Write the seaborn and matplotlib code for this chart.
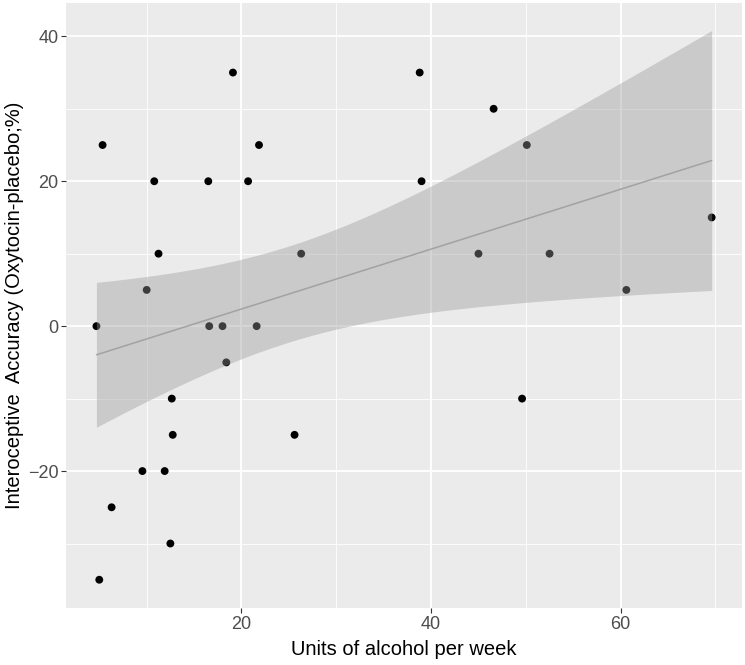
import numpy as np
import pandas as pd
import matplotlib
matplotlib.use("Agg")
import matplotlib.pyplot as plt
import seaborn as sns

# values
units = [4.7, 5.35, 10.8, 11.25, 10.0, 19.1, 16.5, 20.7, 21.85, 16.6, 18.0, 21.6, 26.3,
         18.4, 12.65, 12.75, 25.6, 9.55, 11.9, 6.3, 12.5, 5.0,
         38.8, 46.6, 50.1, 39.0, 45.0, 52.5, 60.6, 69.6, 49.6]
accuracy = [0, 25, 20, 10, 5, 35, 20, 20, 25, 0, 0, 0, 10,
            -5, -10, -15, -15, -20, -20, -25, -30, -35,
            35, 30, 25, 20, 10, 10, 5, 15, -10]

x_label = "Units of alcohol per week"
y_label = "Interoceptive  Accuracy (Oxytocin-placebo;%)"

df = pd.DataFrame({"units": units, "accuracy": accuracy})

sns.set_style("darkgrid", {"axes.facecolor": "#EBEBEB", "grid.color": "white"})
plt.rcParams["font.family"] = ["Liberation Sans", "DejaVu Sans"]

fig = plt.figure(figsize=(7.45, 6.65), dpi=100)
ax = fig.add_axes([66 / 745, 1 - 608 / 665, 676 / 745, 605 / 665])

sns.scatterplot(data=df, x="units", y="accuracy", color="black", s=32,
                edgecolor="none", ax=ax, zorder=2)

# linear fit with analytic 95% band, like geom_smooth(method="lm")
x = np.asarray(units, float)
y = np.asarray(accuracy, float)
n = len(x)
b1, b0 = np.polyfit(x, y, 1)
resid = y - (b0 + b1 * x)
s = np.sqrt(np.sum(resid ** 2) / (n - 2))
grid = np.linspace(x.min(), x.max(), 80)
se = s * np.sqrt(1 / n + (grid - x.mean()) ** 2 / np.sum((x - x.mean()) ** 2))
tcrit = 2.045  # t(0.975, 29)
fit = b0 + b1 * grid

sns.lineplot(x=grid, y=fit, color="#A8A8A8", linewidth=1.1, ax=ax, zorder=3)
ax.fill_between(grid, fit - tcrit * se, fit + tcrit * se, color="#999999",
                alpha=0.4, linewidth=0, zorder=4)

ax.set_xlim(1.49, 72.8)
ax.set_ylim(-38.9, 44.6)
ax.set_xticks([20, 40, 60])
ax.set_yticks([-20, 0, 20, 40])
ax.set_xticks([10, 30, 50, 70], minor=True)
ax.set_yticks([-30, -10, 10, 30], minor=True)
ax.grid(which="major", color="white", linewidth=1.3)
ax.grid(which="minor", color="white", linewidth=0.6)
ax.tick_params(which="major", length=3.5, width=0.8, color="#333333",
               labelsize=13, labelcolor="#4D4D4D", pad=2, bottom=True, left=True)
ax.tick_params(which="minor", length=0)
for sp in ax.spines.values():
    sp.set_visible(False)

ax.set_xlabel(x_label, fontsize=14.5, color="black", labelpad=5)
ax.set_ylabel(y_label, fontsize=14.5, color="black", labelpad=3)

fig.savefig("out.png", dpi=100)
